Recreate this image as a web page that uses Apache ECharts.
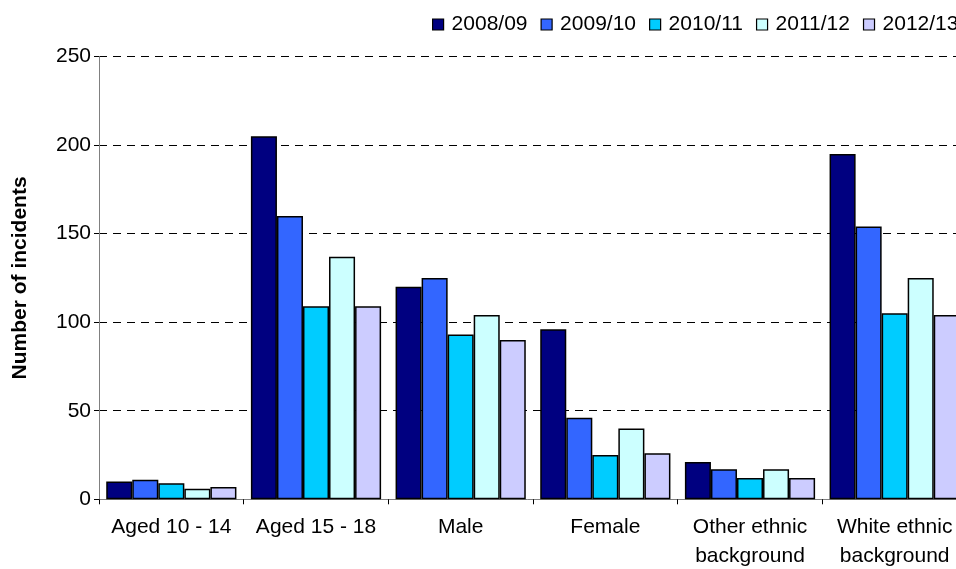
<!DOCTYPE html>
<html>
<head>
<meta charset="utf-8">
<script src="https://cdn.jsdelivr.net/npm/echarts@6/dist/echarts.min.js"></script>
<style>
html,body{margin:0;padding:0;background:#fff;}
#chart{width:956px;height:569px;}
</style>
</head>
<body>
<div id="chart"></div>
<script>
const categories = ['Aged 10 - 14', 'Aged 15 - 18', 'Male', 'Female', 'Other ethnic\nbackground', 'White ethnic\nbackground'];
const seriesNames = ['2008/09', '2009/10', '2010/11', '2011/12', '2012/13'];
const v2008 = [10, 205, 120, 96, 21, 195];
const v2009 = [11, 160, 125, 46, 17, 154];
const v2010 = [9, 109, 93, 25, 12, 105];
const v2011 = [6, 137, 104, 40, 17, 125];
const v2012 = [7, 109, 90, 26, 12, 104];
const yTicks = [0, 50, 100, 150, 200, 250];

const allValues = [v2008, v2009, v2010, v2011, v2012];
const colors = ['#000080', '#3366FF', '#00CCFF', '#CCFFFF', '#CCCCFF'];
const FONT = '"Liberation Sans", Arial, sans-serif';

const chart = echarts.init(document.getElementById('chart'));
chart.setOption({
  animation: false,
  textStyle: { fontFamily: FONT },
  legend: {
    left: 427, top: 9, width: 700,
    icon: 'rect',
    itemWidth: 11, itemHeight: 11, itemGap: 13,
    itemStyle: { borderColor: '#000', borderWidth: 1.2 },
    textStyle: { fontSize: 21, color: '#000', fontFamily: FONT, padding: [0, 0, 0, 3] },
    data: seriesNames
  },
  grid: { left: 99, right: -11, top: 56.5, bottom: 69.7, containLabel: false, outerBoundsMode: 'none' },
  xAxis: {
    type: 'category',
    data: categories,
    axisLine: { lineStyle: { color: '#808080', width: 1 } },
    axisTick: { show: true, length: 5, lineStyle: { color: '#000' } },
    axisLabel: { interval: 0, fontSize: 21, color: '#000', lineHeight: 29, margin: 13, fontFamily: FONT }
  },
  yAxis: {
    type: 'value',
    min: yTicks[0], max: yTicks[yTicks.length - 1], interval: 50,
    name: 'Number of incidents',
    nameLocation: 'middle',
    nameGap: 68,
    nameTextStyle: { fontSize: 21, fontWeight: 'bold', color: '#000', fontFamily: FONT },
    axisLine: { show: true, lineStyle: { color: '#808080', width: 1 } },
    axisTick: { show: true, length: 5, lineStyle: { color: '#000' } },
    axisLabel: { fontSize: 21, color: '#000', margin: 8, fontFamily: FONT },
    splitLine: { show: true, lineStyle: { color: '#000', width: 1, type: [8, 6] } }
  },
  series: seriesNames.map((n, i) => ({
    name: n,
    type: 'bar',
    data: allValues[i],
    barGap: '0%',
    barCategoryGap: '10%',
    itemStyle: { color: colors[i], borderColor: '#000', borderWidth: 1.5 }
  }))
});
</script>
</body>
</html>
